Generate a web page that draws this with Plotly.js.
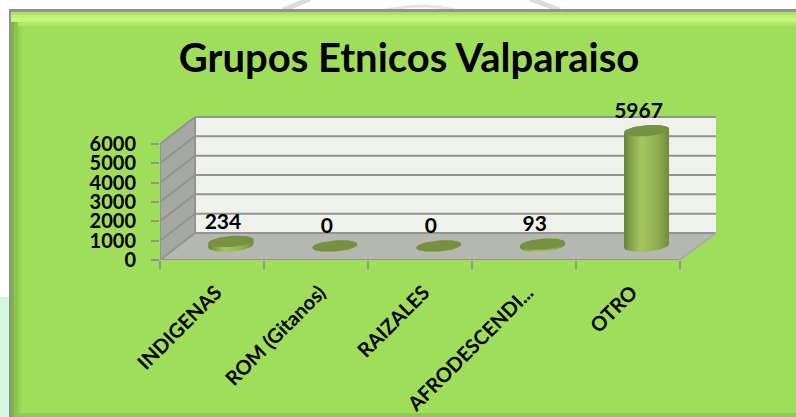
<!DOCTYPE html>
<html><head><meta charset="utf-8">
<script src="https://cdn.plot.ly/plotly-3.0.1.min.js"></script>
<style>html,body{margin:0;padding:0;background:#fff;overflow:hidden}</style>
</head><body><div id="chart" style="width:796px;height:417px"></div>
<script>
const categories = ["INDIGENAS","ROM (Gitanos)","RAIZALES","AFRODESCENDI...","OTRO"];
const values = [234,0,0,93,5967];
const yTicks = [0,1000,2000,3000,4000,5000,6000];
const chartTitle = "Grupos Etnicos Valparaiso";

const W=796,H=417,L=160,R=716,T=95,B=260;
const pxPerCat=103.9, pxPerUnit=116/6000;
const xMin=-0.5, xMax=xMin+(R-L)/pxPerCat, yMax=(B-T)/pxPerUnit;
const depthX=35/pxPerCat, depthY=27/pxPerUnit;
const frontEnd=categories.length-0.5;
const baseDX=19/pxPerCat, baseDY=14/pxPerUnit;
const tickShift=4/pxPerCat;
const GR="#939393";
const fx=p=>(p-L)/(R-L), fy=p=>(B-p)/(B-T);

function poly(pts,fill,line,lw,layer){
  return {type:"path",xref:"x",yref:"y",layer:layer||"below",
    path:"M"+pts.map(p=>p[0]+" "+p[1]).join("L")+"Z",fillcolor:fill,line:{color:line||fill,width:lw||0}};
}
function seg(x0,y0,x1,y1,c,w){return {type:"line",xref:"x",yref:"y",layer:"below",x0,y0,x1,y1,line:{color:c||GR,width:w||2}};}
function box(x0,y0,x1,y1,c,op){return {type:"rect",xref:"paper",yref:"paper",layer:"below",x0:fx(x0),x1:fx(x1),y0:fy(y0),y1:fy(y1),fillcolor:c,opacity:op==null?1:op,line:{width:0}};}
function arc(pts,c,w){return {type:"path",xref:"paper",yref:"paper",layer:"below",path:"M"+pts.map(p=>fx(p[0])+" "+fy(p[1])).join("L"),line:{color:c,width:w}};}

const shapes=[
  box(0,297,10,H,"#d2f8e2"),
  arc([[283,10],[310,-1]],"#dcdcdc",5),
  arc([[385,10],[405,7],[420,6],[440,7],[455,10]],"#e4e4ea",3),
  arc([[530,-1],[560,10]],"#dcdcdc",5),
  box(9,9,W,H,"#8f948b"),
  box(11,12,W,H,"#9fde5b"),
  box(11,12,W,15,"#a9e463"),
  box(11,15,W,18,"#bdf276"),
  box(11,18,W,22,"#c4f67d"),
  box(11,22,W,26,"#aee869"),
  box(11,22,14,H,"#7fb347"),
  box(14,22,18,H,"#8cc550"),
  box(18,26,21,H,"#96d356"),
  box(18,413,W,H,"#8fcb52"),
  poly([[xMin,0],[xMin,6000],[xMin+depthX,6000+depthY],[xMin+depthX,depthY]],"#a6a8a3"),
  poly([[xMin+depthX,depthY],[xMin+depthX,6000+depthY],[xMax,6000+depthY],[xMax,depthY]],"#eff1eb"),
  poly([[xMin,0],[xMin+depthX,depthY],[xMax,depthY],[frontEnd,0]],"#b5b7b1")
];
yTicks.forEach(v=>{
  shapes.push(seg(xMin,v,xMin+depthX,v+depthY));
  shapes.push(seg(xMin+depthX,v+depthY,xMax,v+depthY));
});
shapes.push(seg(xMin,0,xMin,6000));
shapes.push(seg(xMin+depthX,depthY,xMin+depthX,6000+depthY));
shapes.push(seg(xMin,0,frontEnd,0));
shapes.push(seg(frontEnd,0,xMax,depthY,"#a9aba6",2));

const A=22.5/pxPerCat, BY=5.5/pxPerUnit, TILT=1.7/pxPerUnit;
function ellPt(cx,cy,deg){const t=deg*Math.PI/180;return [cx+A*Math.cos(t),cy+BY*Math.sin(t)+TILT*Math.cos(t)];}
function rangePts(cx,cy,from,to){const r=[];for(let d=from;d<=to;d+=6)r.push(ellPt(cx,cy,d));return r;}

const traces=[];
categories.forEach((c,i)=>{
  const cx=i+baseDX, cy=baseDY, top=cy+values[i];
  const body=[...rangePts(cx,cy,-180,0),...rangePts(cx,top,0,180)];
  body.push(body[0]);
  traces.push({type:"scatter",mode:"lines",x:body.map(p=>p[0]),y:body.map(p=>p[1]),
    fill:"toself",line:{width:0},cliponaxis:false,hoverinfo:"skip",showlegend:false,
    fillgradient:{type:"horizontal",colorscale:[[0,"#64803a"],[0.12,"#7f9e47"],[0.38,"#a6c75f"],[0.75,"#90ae50"],[1,"#6f8b3e"]]}});
  const cap=rangePts(cx,top,0,360);
  traces.push({type:"scatter",mode:"lines",x:cap.map(p=>p[0]),y:cap.map(p=>p[1]),
    fill:"toself",fillcolor:"#76913f",line:{width:0},cliponaxis:false,hoverinfo:"skip",showlegend:false});
});
const labelDX=-8/pxPerCat, labelDY=18/pxPerUnit;
traces.push({type:"scatter",mode:"text",x:categories.map((c,i)=>i+baseDX+labelDX),
  y:values.map(v=>v+baseDY+labelDY),text:values.map(String),textposition:"middle center",
  textfont:{family:"Lato, sans-serif",size:21,color:"#000",weight:700},cliponaxis:false,hoverinfo:"skip",showlegend:false});

const layout={
  width:W,height:H,margin:{l:L,r:W-R,t:T,b:H-B,pad:0},
  paper_bgcolor:"#ffffff",plot_bgcolor:"rgba(0,0,0,0)",showlegend:false,
  title:{text:"<b>"+chartTitle+"</b>",x:409/W,xanchor:"center",y:1-58/H,yanchor:"middle",
    font:{family:"Lato, sans-serif",size:40,color:"#000"}},
  xaxis:{type:"linear",range:[xMin,xMax],tickmode:"array",tickvals:categories.map((c,i)=>i+tickShift),ticktext:categories,
    tickangle:-45,ticks:"outside",ticklen:12,tickcolor:"rgba(0,0,0,0)",showgrid:false,zeroline:false,showline:false,
    tickfont:{family:"Lato, sans-serif",size:20,color:"#000",weight:700},automargin:false,
    minor:{tickmode:"array",tickvals:categories.map((c,i)=>i-0.5).concat([frontEnd]),ticks:"outside",ticklen:8,tickwidth:2,tickcolor:GR,showgrid:false}},
  yaxis:{range:[0,yMax],tickmode:"array",tickvals:yTicks,ticktext:yTicks.map(String),ticks:"outside",ticklen:19,tickcolor:"rgba(0,0,0,0)",
    showgrid:false,zeroline:false,showline:false,automargin:false,
    tickfont:{family:"Lato, sans-serif",size:20,color:"#000",weight:700},
    minor:{tickmode:"array",tickvals:yTicks,ticks:"outside",ticklen:8,tickwidth:2,tickcolor:GR,showgrid:false}},
  shapes
};
Plotly.newPlot("chart",traces,layout,{displayModeBar:false,staticPlot:true});
</script></body></html>
